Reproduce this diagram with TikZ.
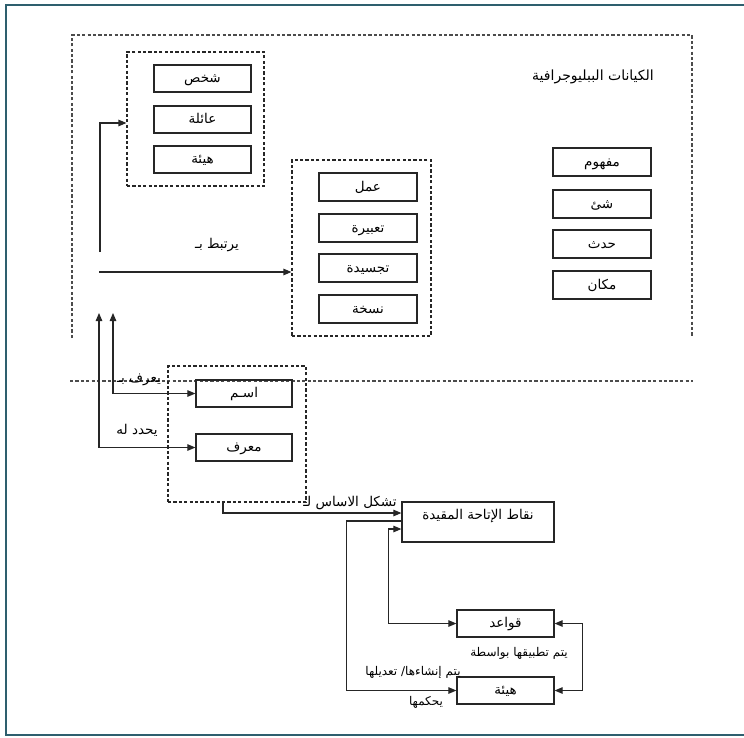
\documentclass[tikz,border=0pt]{standalone}
\usepackage{fontspec}
\usepackage{tikz}
\usetikzlibrary{arrows,arrows.meta,positioning,calc}
\newfontfamily\arabicfont[Script=Arabic]{DejaVu Sans}
\TeXXeTstate=1
\newcommand{\arlabel}[1]{\beginR #1\endR}
\definecolor{framecol}{HTML}{2E5F6E}

\begin{document}
\begin{tikzpicture}
		[x=1pt,y=-1pt,>={Triangle[length=8pt,width=6.5pt]},
		entity/.style={draw=black!85,line width=1.2pt,minimum width=97pt,minimum height=27pt,inner sep=0pt,
			text height=10pt,text depth=2pt,font=\arabicfont\fontsize{13.5}{15}\selectfont},
		grp/.style={draw=black!85,line width=1.1pt,dash pattern=on 3.2pt off 2.2pt,inner sep=0pt},
		lbl/.style={inner sep=0pt,font=\arabicfont\fontsize{13.5}{15}\selectfont},
		small/.style={lbl,font=\arabicfont\fontsize{12}{14}\selectfont},
		conn/.style={draw=black!85,line width=1.1pt}]
		\useasboundingbox (0,0) rectangle (744,737);
		% outer frame and the entities area
		\draw[framecol,line width=2pt] (746,5) -- (6,5) -- (6,735) -- (746,735);
		\draw[grp,black!70] (72,338) -- (72,35) -- (692,35) -- (692,336);
		\draw[grp,black!70] (70,381) -- (693,381);
		\node[lbl,font=\arabicfont\fontsize{14}{16}\selectfont] (title) at (593,77) {\arlabel{الكيانات الببليوجرافية}};
		% group 1
		\node[grp,minimum width=137pt,minimum height=134pt] (agents) at (195.5,119) {};
		\node[entity] (shakhs) at (202.5,78.5) {\arlabel{شخص}};
		\node[entity] (aila) at (202.5,119.5) {\arlabel{عائلة}};
		\node[entity] (haia) at (202.5,159.5) {\arlabel{هيئة}};
		% group 2
		\node[grp,minimum width=139pt,minimum height=176pt] (works) at (361.5,248) {};
		\node[entity,minimum width=98pt,minimum height=28pt] (amal) at (368,187) {\arlabel{عمل}};
		\node[entity,minimum width=98pt,minimum height=28pt] (tabira) at (368,228) {\arlabel{تعبيرة}};
		\node[entity,minimum width=98pt,minimum height=28pt] (tajsida) at (368,268) {\arlabel{تجسيدة}};
		\node[entity,minimum width=98pt,minimum height=28pt] (nuskha) at (368,309) {\arlabel{نسخة}};
		% group 3
		\node[entity,minimum width=98pt,minimum height=28pt] (mafhum) at (602,162) {\arlabel{مفهوم}};
		\node[entity,minimum width=98pt,minimum height=28pt] (shay) at (602,204) {\arlabel{شئ}};
		\node[entity,minimum width=98pt,minimum height=28pt] (hadath) at (602,244) {\arlabel{حدث}};
		\node[entity,minimum width=98pt,minimum height=28pt] (makan) at (602,285) {\arlabel{مكان}};
		% names and identifiers
		\node[grp,minimum width=138pt,minimum height=136pt] (names) at (237,434) {};
		\node[entity,minimum width=96pt] (ism) at (244,393.5) {\arlabel{اسـم}};
		\node[entity,minimum width=96pt] (muarrif) at (244,447.5) {\arlabel{معرف}};
		% access points
		\node[entity,minimum width=152pt,minimum height=40pt,text depth=16pt] (nuqat) at (478,522) {\arlabel{نقاط الإتاحة المقيدة}};
		\node[entity] (qawaid) at (505.5,623.5) {\arlabel{قواعد}};
		\node[entity] (haia2) at (505.5,690.5) {\arlabel{هيئة}};
		% connectors
		\coordinate (v1) at (100,252);
		\coordinate (v2) at (99,272);
		\coordinate (up1) at (113,313);
		\coordinate (up2) at (99,313);
		\coordinate (b1) at (223,502);
		\draw[conn,->] (v1) |- ([yshift=-4pt]agents.west);
		\draw[conn,->] (v2) -- (v2 -| works.west);
		\node[lbl] (yartabit) at (217,245) {\arlabel{يرتبط بـ}};
		\draw[conn,<->] (up1) |- (ism.west);
		\node[lbl] (yuraf) at (139,380) {\arlabel{يعرف بـ}};
		\draw[conn,<->] (up2) |- (muarrif.west);
		\node[lbl] (yuhaddad) at (137,430) {\arlabel{يحدد له}};
		\draw[conn,->] (b1) |- ([yshift=9pt]nuqat.west);
		\node[lbl] (tushakkil) at (350,503) {\arlabel{تشكل الاساس لـ}};
		\draw[conn,<->] ([yshift=-7pt]nuqat.west) -- ++(-13,0) |- (qawaid.west);
		\draw[conn,->] ([yshift=1pt]nuqat.west) -- ++(-55,0) |- (haia2.west);
		\draw[conn,<->] (qawaid.east) -- ++(28,0) |- (haia2.east);
		\node[small] (tatbiq) at (519,653) {\arlabel{يتم تطبيقها بواسطة}};
		\node[small] (inshaa) at (413,672) {\arlabel{يتم إنشاءها/ تعديلها}};
		\node[small] (yahkum) at (426,702) {\arlabel{يحكمها}};
\end{tikzpicture}
\end{document}
